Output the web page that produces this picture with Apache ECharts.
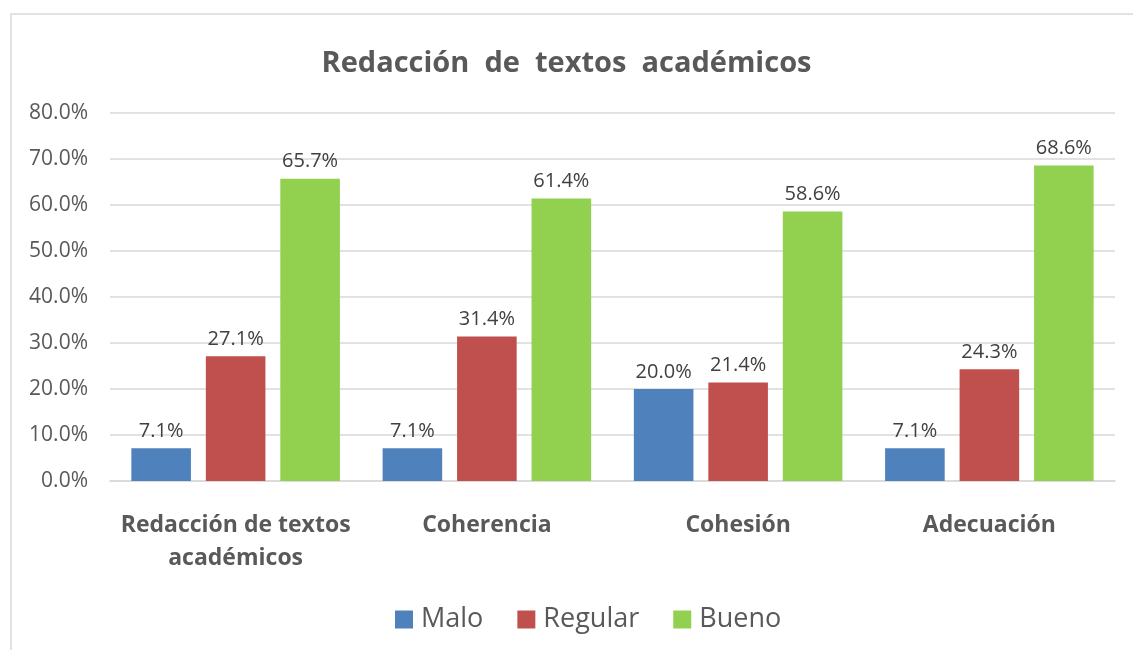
<!DOCTYPE html>
<html>
<head>
<meta charset="utf-8">
<script src="https://cdn.jsdelivr.net/npm/echarts@6/dist/echarts.min.js"></script>
<style>
html, body { margin: 0; padding: 0; background: #fff; }
#chart { width: 1133px; height: 650px; }
</style>
</head>
<body>
<div id="chart"></div>
<script>
var categories = ['Redacción de textos\nacadémicos', 'Coherencia', 'Cohesión', 'Adecuación'];
var seriesNames = ['Malo', 'Regular', 'Bueno'];
var malo = [7.1, 7.1, 20.0, 7.1];
var regular = [27.1, 31.4, 21.4, 24.3];
var bueno = [65.7, 61.4, 58.6, 68.6];
var colors = ['#4f81bd', '#c0504d', '#92d050'];

var font = '"Open Sans", "Noto Sans", sans-serif';
var chart = echarts.init(document.getElementById('chart'));

var makeSeries = function(name, data, color){
	return {
		name: name,
		type: 'bar',
		data: data,
		barGap: '25%',
		barCategoryGap: '17%',
		itemStyle: { color: color },
		label: {
			show: true,
			position: 'top',
			distance: 7,
			color: '#404040',
			fontFamily: font,
			fontSize: 20,
			formatter: function(p){ return p.value.toFixed(1) + '%'; }
		}
	};
};

chart.setOption({
	animation: false,
	color: colors,
	title: {
		text: 'Redacción  de  textos  académicos',
		left: 'center',
		top: 44,
		textStyle: { fontFamily: font, fontSize: 29, fontWeight: 'bold', color: '#595959' }
	},
	legend: {
		data: seriesNames,
		bottom: 12,
		left: 390,
		itemWidth: 18,
		itemHeight: 18,
		itemGap: 34,
		icon: 'rect',
		textStyle: { fontFamily: font, fontSize: 27, color: '#595959', padding: [0, 0, 0, 3] }
	},
	grid: { left: 110, right: 18, top: 113, bottom: 169 },
	xAxis: {
		type: 'category',
		data: categories,
		axisTick: { show: false },
		axisLine: { lineStyle: { color: '#d9d9d9', width: 1.5 } },
		axisLabel: {
			interval: 0,
			margin: 28,
			fontFamily: font,
			fontSize: 23,
			fontWeight: 'bold',
			color: '#595959',
			lineHeight: 33
		}
	},
	yAxis: {
		type: 'value',
		min: 0,
		max: 80,
		interval: 10,
		axisLine: { show: false },
		axisTick: { show: false },
		splitLine: { lineStyle: { color: '#d9d9d9', width: 1.5 } },
		axisLabel: {
			margin: 22,
			fontFamily: font,
			fontSize: 21,
			color: '#595959',
			formatter: function(v){ return v.toFixed(1) + '%'; }
		}
	},
	graphic: [{
		type: 'rect',
		shape: { x: 11, y: 14, width: 1200, height: 700 },
		style: { fill: 'none', stroke: '#d9d9d9', lineWidth: 1.5 },
		silent: true
	}],
	series: [
		makeSeries(seriesNames[0], malo, colors[0]),
		makeSeries(seriesNames[1], regular, colors[1]),
		makeSeries(seriesNames[2], bueno, colors[2])
	]
});
</script>
</body>
</html>
